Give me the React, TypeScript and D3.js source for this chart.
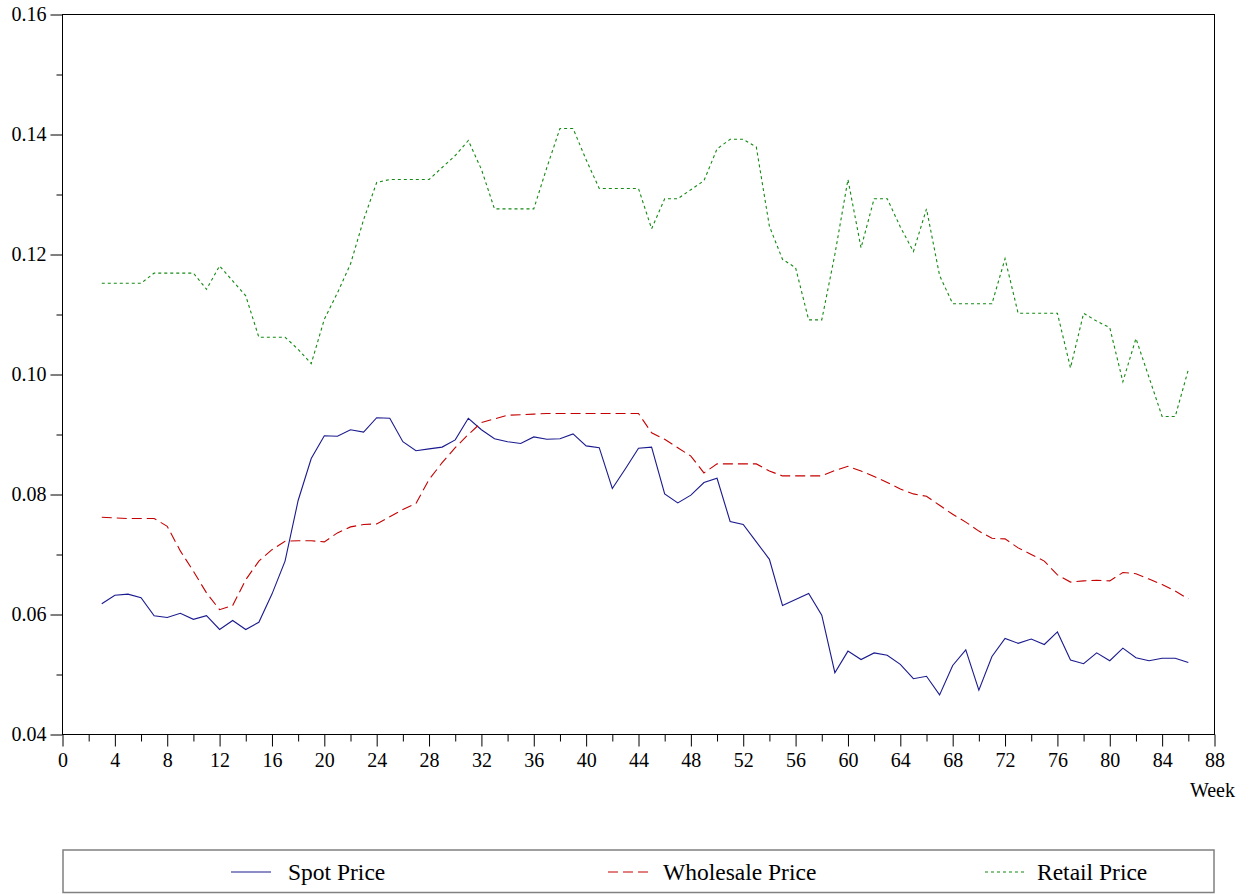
import React, { useEffect, useRef } from "react";
import * as d3 from "d3";

const weeks: number[] = Array.from({ length: 84 }, (_, i) => i + 3);

const spotPrice: number[] = [
  0.0618, 0.0632, 0.0634, 0.0628, 0.0598, 0.0595, 0.0602, 0.0592, 0.0598, 0.0575,
  0.0590, 0.0575, 0.0587, 0.0634, 0.0689, 0.0790, 0.0860, 0.0898, 0.0897, 0.0908,
  0.0904, 0.0928, 0.0927, 0.0888, 0.0873, 0.0876, 0.0879, 0.0891, 0.0927, 0.0908,
  0.0893, 0.0888, 0.0885, 0.0896, 0.0892, 0.0893, 0.0901, 0.0881, 0.0878, 0.0810,
  0.0843, 0.0877, 0.0879, 0.0801, 0.0786, 0.0799, 0.0820, 0.0827, 0.0755, 0.0750,
  0.0721, 0.0692, 0.0615, 0.0625, 0.0635, 0.0599, 0.0503, 0.0539, 0.0525, 0.0536,
  0.0532, 0.0517, 0.0493, 0.0497, 0.0466, 0.0515, 0.0541, 0.0474, 0.0530, 0.0560,
  0.0552, 0.0559, 0.0550, 0.0571, 0.0524, 0.0518, 0.0536, 0.0523, 0.0544, 0.0528,
  0.0523, 0.0527, 0.0527, 0.0520,
];

const wholesalePrice: number[] = [
  0.0762, 0.0761, 0.0760, 0.0760, 0.0760, 0.0747, 0.0706, 0.0672, 0.0636, 0.0608,
  0.0615, 0.0658, 0.0689, 0.0708, 0.0722, 0.0723, 0.0723, 0.0721, 0.0736, 0.0746,
  0.0750, 0.0751, 0.0763, 0.0775, 0.0785, 0.0825, 0.0853, 0.0878, 0.0900, 0.0920,
  0.0926, 0.0932, 0.0933, 0.0934, 0.0935, 0.0935, 0.0935, 0.0935, 0.0935, 0.0935,
  0.0935, 0.0935, 0.0903, 0.0892, 0.0878, 0.0864, 0.0836, 0.0851, 0.0851, 0.0851,
  0.0851, 0.0839, 0.0831, 0.0831, 0.0831, 0.0831, 0.0840, 0.0847, 0.0839, 0.0830,
  0.0820, 0.0809, 0.0801, 0.0797, 0.0782, 0.0767, 0.0754, 0.0739, 0.0727, 0.0726,
  0.0711, 0.0700, 0.0689, 0.0666, 0.0654, 0.0656, 0.0657, 0.0656, 0.0670, 0.0668,
  0.0659, 0.0650, 0.0639, 0.0626,
];

const retailPrice: number[] = [
  0.1152, 0.1152, 0.1152, 0.1152, 0.1169, 0.1169, 0.1169, 0.1169, 0.1142, 0.1181,
  0.1156, 0.1131, 0.1062, 0.1062, 0.1062, 0.1042, 0.1018, 0.1092, 0.1136, 0.1184,
  0.1258, 0.1320, 0.1325, 0.1325, 0.1325, 0.1325, 0.1345, 0.1365, 0.1390, 0.1342,
  0.1276, 0.1276, 0.1276, 0.1276, 0.1345, 0.1410, 0.1410, 0.1358, 0.1310, 0.1310,
  0.1310, 0.1310, 0.1243, 0.1293, 0.1293, 0.1308, 0.1323, 0.1376, 0.1392, 0.1392,
  0.1379, 0.1247, 0.1192, 0.1178, 0.1091, 0.1091, 0.1200, 0.1325, 0.1211, 0.1293,
  0.1293, 0.1246, 0.1205, 0.1276, 0.1165, 0.1118, 0.1118, 0.1118, 0.1118, 0.1193,
  0.1102, 0.1102, 0.1102, 0.1102, 0.1011, 0.1102, 0.1089, 0.1078, 0.0988, 0.1060,
  0.0995, 0.0930, 0.0930, 0.1008,
];

const seriesNames: string[] = ["Spot Price", "Wholesale Price", "Retail Price"];
const xTicks: number[] = d3.range(0, 89, 4);
const yTicks: number[] = [0.04, 0.06, 0.08, 0.1, 0.12, 0.14, 0.16];

const W = 1249;
const H = 894;
const M = { left: 62.5, right: 1214.5, top: 14.5, bottom: 734.5 };
const FONT = "Liberation Serif, Times New Roman, Times, serif";

const styles = [
  { color: "#1a1a8e", dash: null as string | null },
  { color: "#c40000", dash: "10,5" },
  { color: "#138a13", dash: "3,3" },
];

export default function App() {
  const ref = useRef<SVGSVGElement>(null);

  useEffect(() => {
    const svg = d3.select(ref.current);
    svg.selectAll("*").remove();

    const x = d3.scaleLinear().domain([0, 88]).range([M.left, M.right]);
    const y = d3.scaleLinear().domain([0.04, 0.16]).range([M.bottom, M.top]);

    svg
      .append("rect")
      .attr("x", M.left)
      .attr("y", M.top)
      .attr("width", M.right - M.left)
      .attr("height", M.bottom - M.top)
      .attr("fill", "none")
      .attr("stroke", "#000")
      .attr("stroke-width", 1);

    const yAxis = d3
      .axisLeft(y)
      .tickValues(yTicks)
      .tickSize(12)
      .tickPadding(4)
      .tickFormat(d3.format(".2f") as any);
    const gy = svg.append("g").attr("transform", `translate(${M.left},0)`).call(yAxis);
    gy.attr("font-family", null).attr("font-size", null);
    gy.select(".domain").remove();
    gy.selectAll("text").style("font-family", FONT).style("font-size", "20px").attr("fill", "#000");
    gy.selectAll("line").attr("stroke", "#000");

    const yMinor = d3.axisLeft(y).tickValues([0.05, 0.07, 0.09, 0.11, 0.13, 0.15]).tickSize(6).tickFormat(() => "");
    const gym = svg.append("g").attr("transform", `translate(${M.left},0)`).call(yMinor);
    gym.select(".domain").remove();
    gym.selectAll("line").attr("stroke", "#000");

    const xAxis = d3.axisBottom(x).tickValues(xTicks).tickSize(12).tickPadding(6).tickFormat(d3.format("d") as any);
    const gx = svg.append("g").attr("transform", `translate(0,${M.bottom})`).call(xAxis);
    gx.attr("font-family", null).attr("font-size", null);
    gx.select(".domain").remove();
    gx.selectAll("text").style("font-family", FONT).style("font-size", "20px").attr("fill", "#000");
    gx.selectAll("line").attr("stroke", "#000");

    const xMinor = d3.axisBottom(x).tickValues(d3.range(2, 88, 4)).tickSize(7).tickFormat(() => "");
    const gxm = svg.append("g").attr("transform", `translate(0,${M.bottom})`).call(xMinor);
    gxm.select(".domain").remove();
    gxm.selectAll("line").attr("stroke", "#000");

    svg
      .append("text")
      .attr("x", 1235)
      .attr("y", 797)
      .attr("text-anchor", "end")
      .style("font-family", FONT)
      .style("font-size", "20px")
      .text("Week");

    const data = [spotPrice, wholesalePrice, retailPrice];
    const line = d3
      .line<number>()
      .x((_, i) => x(weeks[i]))
      .y((d) => y(d));

    data.forEach((vals, k) => {
      const p = svg
        .append("path")
        .attr("d", line(vals))
        .attr("fill", "none")
        .attr("stroke", styles[k].color)
        .attr("stroke-width", 1.1);
      if (styles[k].dash) p.attr("stroke-dasharray", styles[k].dash as string);
    });

    svg
      .append("rect")
      .attr("x", 63)
      .attr("y", 850)
      .attr("width", 1151)
      .attr("height", 42.5)
      .attr("fill", "none")
      .attr("stroke", "#808080")
      .attr("stroke-width", 1.5);

    const legendX = [231, 608, 985];
    const legendTextX = [288, 663, 1037];
    seriesNames.forEach((name, k) => {
      const g = svg.append("g");
      const l = g
        .append("line")
        .attr("x1", legendX[k])
        .attr("x2", legendX[k] + 40)
        .attr("y1", 872)
        .attr("y2", 872)
        .attr("stroke", styles[k].color)
        .attr("stroke-width", 1.1);
      if (styles[k].dash) l.attr("stroke-dasharray", styles[k].dash as string);
      g.append("text")
        .attr("x", legendTextX[k])
        .attr("y", 880)
        .style("font-family", FONT)
        .style("font-size", "23.5px")
        .attr("fill", "#000")
        .text(name);
    });
  }, []);

  return (
    <div style={{ position: "absolute", left: 0, top: 0, background: "#fff" }}>
      <svg ref={ref} width={W} height={H} style={{ display: "block" }} />
    </div>
  );
}
